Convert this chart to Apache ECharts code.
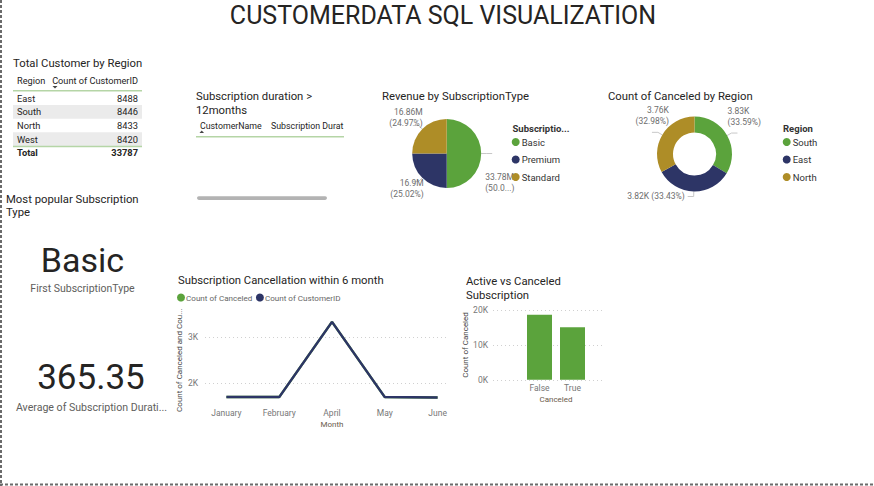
<!DOCTYPE html>
<html><head><meta charset="utf-8">
<script src="https://cdn.jsdelivr.net/npm/echarts@6/dist/echarts.min.js"></script>
<style>html,body{margin:0;padding:0;background:#fff;overflow:hidden}#c{width:874px;height:486px}</style>
</head><body><div id="c"></div>
<script>
// ---------- data ----------
const reportTitle = 'CUSTOMERDATA SQL VISUALIZATION';
const regions = ['East', 'South', 'North', 'West'];
const customerCounts = [8488, 8446, 8433, 8420];
const durationTableHeaders = ['CustomerName', 'Subscription Durat'];
const subscriptionTypes = ['Basic', 'Premium', 'Standard'];
const revenueBySubscription = [33780000, 16900000, 16862000];
const cancelRegions = ['South', 'East', 'North'];
const canceledByRegion = [3833, 3815, 3763];
const months = ['January', 'February', 'April', 'May', 'June'];
const canceledByMonth = [1690, 1690, 3340, 1690, 1680];
const customersByMonth = [1690, 1690, 3340, 1690, 1680];
const canceledStates = ['False', 'True'];
const canceledStateCounts = [18700, 15087];
const popularSubscription = 'Basic';
const avgSubscriptionDuration = 365.35;

// ---------- styles ----------
const F = 'Roboto, "Open Sans", sans-serif';
const GREEN = '#5BA33C', NAVY = '#2D3566', GOLD = '#AE8D27';
const TXT = '#252423', SUB = '#605E5C', AX = '#777777', LBL = '#6E6E6E';
const TITLE_SIZE = 11.3;
// label nudges (px) applied after ECharts lays out the outside pie labels
const revenueLabelShift = [[-12, 29], [16, 7.5], [15, -8.3]];
const cancelLabelShift = [[-15, -17], [2, 0], [22, -17]];

function txt(text, x, y, size, opt) {
  return { type: 'text', x: x, y: y, silent: true,
    style: Object.assign({ text: text, fontSize: size, fontFamily: F, fill: TXT,
      textAlign: 'left', textVerticalAlign: 'middle' }, opt || {}) };
}
const fmtM = v => parseFloat((v / 1e6).toFixed(2)) + 'M';
const fmtK = v => (Math.round(v / 10) / 100).toFixed(2) + 'K';

const g = [];
// border
g.push({ type: 'line', silent: true, shape: { x1: 1, y1: 0, x2: 1, y2: 486 }, style: { stroke: '#6b6b6b', lineWidth: 2, lineDash: [3, 2] } });
g.push({ type: 'line', silent: true, shape: { x1: 0, y1: 484.5, x2: 874, y2: 484.5 }, style: { stroke: '#6b6b6b', lineWidth: 2, lineDash: [3, 2] } });
// main title
g.push(txt(reportTitle, 443, 15, 25, { textAlign: 'center' }));

// table: Total Customer by Region
g.push(txt('Total Customer by Region', 13, 63, TITLE_SIZE));
g.push(txt('Region', 17, 80, 9.2));
g.push(txt('Count of CustomerID', 138, 80, 9.2, { textAlign: 'right' }));
g.push({ type: 'polygon', silent: true, shape: { points: [[52.5, 86], [57.5, 86], [55, 88.5]] }, style: { fill: '#444' } });
const rowTop = 91.5, rowH = 13.6;
regions.forEach((r, i) => {
  const top = rowTop + i * rowH;
  if (i % 2 === 1) g.push({ type: 'rect', silent: true, shape: { x: 13, y: top, width: 129, height: rowH }, style: { fill: '#EBEBEB' } });
  g.push(txt(r, 17, top + rowH / 2, 9.3));
  g.push(txt(String(customerCounts[i]), 138, top + rowH / 2, 9.3, { textAlign: 'right' }));
});
const totalTop = rowTop + regions.length * rowH;
g.push({ type: 'line', silent: true, shape: { x1: 13, y1: 90.7, x2: 142, y2: 90.7 }, style: { stroke: '#B5D5A6', lineWidth: 1.5 } });
g.push({ type: 'line', silent: true, shape: { x1: 13, y1: totalTop + 0.5, x2: 142, y2: totalTop + 0.5 }, style: { stroke: '#B5D5A6', lineWidth: 1.5 } });
g.push(txt('Total', 17, totalTop + 6.5, 9.3, { fontWeight: 'bold' }));
g.push(txt(String(customerCounts.reduce((a, b) => a + b, 0)), 138, totalTop + 6.5, 9.3, { textAlign: 'right', fontWeight: 'bold' }));

// table: Subscription duration > 12months
g.push(txt('Subscription duration >', 196, 96, TITLE_SIZE));
g.push(txt('12months', 196, 110, TITLE_SIZE));
g.push(txt(durationTableHeaders[0], 200, 126, 8.8));
g.push(txt(durationTableHeaders[1], 271, 126, 8.8));
g.push({ type: 'polygon', silent: true, shape: { points: [[199.5, 133], [204, 133], [201.75, 130.5]] }, style: { fill: '#444' } });
g.push({ type: 'line', silent: true, shape: { x1: 196, y1: 136.7, x2: 344, y2: 136.7 }, style: { stroke: '#B5D5A6', lineWidth: 1.5 } });
g.push({ type: 'rect', silent: true, shape: { x: 197, y: 196.3, width: 130, height: 3.6, r: 1.8 }, style: { fill: '#B3B3B3' } });

// cards
g.push(txt('Most popular Subscription', 6, 199, TITLE_SIZE));
g.push(txt('Type', 6, 212, TITLE_SIZE));
g.push(txt(popularSubscription, 82.5, 260, 34, { textAlign: 'center', fill: '#252423' }));
g.push(txt('First SubscriptionType', 82.5, 288.5, 10.5, { textAlign: 'center', fill: SUB }));
g.push(txt(avgSubscriptionDuration.toFixed(2), 91, 377.5, 35, { textAlign: 'center', fill: '#252423' }));
g.push(txt('Average of Subscription Durati...', 91.5, 407.5, 10.6, { textAlign: 'center', fill: SUB }));

// chart titles
g.push(txt('Revenue by SubscriptionType', 382, 96, TITLE_SIZE));
g.push(txt('Count of Canceled by Region', 608, 96, TITLE_SIZE));
g.push(txt('Subscription Cancellation within 6 month', 178, 280, TITLE_SIZE));
g.push(txt('Active vs Canceled', 466, 281.5, TITLE_SIZE));
g.push(txt('Subscription', 466, 295, TITLE_SIZE));
// legend titles
g.push(txt('Subscriptio...', 512.5, 128, 9.5, { fontWeight: 'bold', fill: '#333' }));
g.push(txt('Region', 783, 128, 9.5, { fontWeight: 'bold', fill: '#333' }));

const labelBase = { color: LBL, fontSize: 8.5, fontFamily: F, lineHeight: 11 };
const shiftBy = table => params => {
  const s = table[params.dataIndex];
  return { dx: s[0], dy: s[1] };
};

const option = {
  animation: false,
  textStyle: { fontFamily: F },
  color: [GREEN, NAVY, GOLD],
  legend: [
    { data: subscriptionTypes, orient: 'vertical', left: 511.7, top: 136, padding: 0, icon: 'circle', itemWidth: 8, itemHeight: 8, itemGap: 5.5,
      textStyle: { fontSize: 9.5, color: '#333', lineHeight: 12, padding: [0, 0, 0, -3] }, selectedMode: false },
    { data: cancelRegions, orient: 'vertical', left: 782.7, top: 136, padding: 0, icon: 'circle', itemWidth: 8, itemHeight: 8, itemGap: 5.5,
      textStyle: { fontSize: 9.5, color: '#333', lineHeight: 12, padding: [0, 0, 0, -3] }, selectedMode: false },
    { data: ['Count of Canceled', 'Count of CustomerID'], orient: 'horizontal', left: 177, top: 293.5, padding: 0, icon: 'circle', itemWidth: 8, itemHeight: 8, itemGap: 3.5,
      textStyle: { fontSize: 8.1, color: '#666', padding: [0, 0, 0, -4] }, selectedMode: false }
  ],
  grid: [
    { left: 205, top: 291.8, width: 244, height: 136.8 },
    { left: 200, top: 314.6, width: 264, height: 86.6 },
    { left: 493, top: 310.2, width: 112, height: 69.6 },
    { left: 523, top: 310.2, width: 66, height: 69.6 }
  ],
  xAxis: [
    { gridIndex: 0, type: 'value', min: 0, max: 1, show: false },
    { gridIndex: 1, type: 'category', data: months, boundaryGap: true,
      axisLine: { show: false }, axisTick: { show: false },
      axisLabel: { color: AX, fontSize: 8.5, margin: 7 },
      name: 'Month', nameLocation: 'middle', nameGap: 19, nameTextStyle: { color: '#6b5b4b', fontSize: 8 } },
    { gridIndex: 2, type: 'value', min: 0, max: 1, show: false },
    { gridIndex: 3, type: 'category', data: canceledStates, boundaryGap: true,
      axisLine: { show: false }, axisTick: { show: false },
      axisLabel: { color: AX, fontSize: 8.5, margin: 4 },
      name: 'Canceled', nameLocation: 'middle', nameGap: 16, nameTextStyle: { color: '#6b5b4b', fontSize: 8 } }
  ],
  yAxis: [
    { gridIndex: 0, type: 'value', min: 1000, max: 4000, interval: 1000,
      axisLine: { show: false }, axisTick: { show: false },
      axisLabel: { color: AX, fontSize: 8.5, margin: 7, showMinLabel: false, showMaxLabel: false, formatter: v => (v / 1000) + 'K' },
      splitLine: { show: true, showMinLine: false, showMaxLine: false, lineStyle: { color: '#D0D0D0', type: [1, 3], width: 1 } },
      name: 'Count of Canceled and Cou...', nameLocation: 'middle', nameRotate: 90, nameGap: 19.5,
      nameTextStyle: { color: '#444', fontSize: 8 } },
    { gridIndex: 1, type: 'value', min: 1600, max: 3500, show: false },
    { gridIndex: 2, type: 'value', min: 0, max: 20000, interval: 10000,
      axisLine: { show: false }, axisTick: { show: false },
      axisLabel: { color: AX, fontSize: 8.5, margin: 5, formatter: v => (v / 1000) + 'K' },
      splitLine: { show: true, lineStyle: { color: '#D0D0D0', type: [1, 3], width: 1 } },
      name: 'Count of Canceled', nameLocation: 'middle', nameRotate: 90, nameGap: 17,
      nameTextStyle: { color: '#444', fontSize: 8 } },
    { gridIndex: 3, type: 'value', min: 0, max: 20000, show: false }
  ],
  series: [
    { type: 'pie', name: 'Revenue', center: [446.7, 153.5], radius: 34.5, startAngle: 90, clockwise: true,
      data: subscriptionTypes.map((n, i) => {
        const item = { name: n, value: revenueBySubscription[i] };
        if (i === 0) item.label = { width: 31, overflow: 'truncate', ellipsis: '...)' };
        return item;
      }),
      label: Object.assign({ show: true, formatter: p => fmtM(p.value) + '\n(' + p.percent.toFixed(2) + '%)' }, labelBase),
      labelLine: { show: true, length: 5, length2: 6, lineStyle: { color: '#C8C8C8', width: 1 } },
      labelLayout: shiftBy(revenueLabelShift),
      emphasis: { disabled: true }, itemStyle: { borderWidth: 0 } },
    { type: 'pie', name: 'Canceled by Region', center: [694.5, 154], radius: [21.5, 37.5], startAngle: 90, clockwise: true,
      data: cancelRegions.map((n, i) => {
        const item = { name: n, value: canceledByRegion[i] };
        if (i === 1) item.label = { formatter: p => fmtK(p.value) + ' (' + p.percent.toFixed(2) + '%)' };
        return item;
      }),
      label: Object.assign({ show: true, formatter: p => fmtK(p.value) + '\n(' + p.percent.toFixed(2) + '%)' }, labelBase),
      labelLine: { show: true, length: 5, length2: 6, lineStyle: { color: '#C8C8C8', width: 1 } },
      labelLayout: shiftBy(cancelLabelShift),
      emphasis: { disabled: true }, itemStyle: { borderWidth: 0 } },
    { type: 'line', name: 'Count of Canceled', xAxisIndex: 1, yAxisIndex: 1, data: canceledByMonth,
      symbol: 'none', lineStyle: { color: GREEN, width: 2.5 }, itemStyle: { color: GREEN } },
    { type: 'line', name: 'Count of CustomerID', xAxisIndex: 1, yAxisIndex: 1, data: customersByMonth,
      symbol: 'none', lineStyle: { color: NAVY, width: 2.5 }, itemStyle: { color: NAVY } },
    { type: 'bar', name: 'Active vs Canceled', xAxisIndex: 3, yAxisIndex: 3, data: canceledStateCounts,
      barWidth: 25, itemStyle: { color: GREEN } }
  ],
  graphic: { elements: g }
};

const chart = echarts.init(document.getElementById('c'), null, { renderer: 'svg', width: 874, height: 486 });
chart.setOption(option);
</script>
</body></html>
